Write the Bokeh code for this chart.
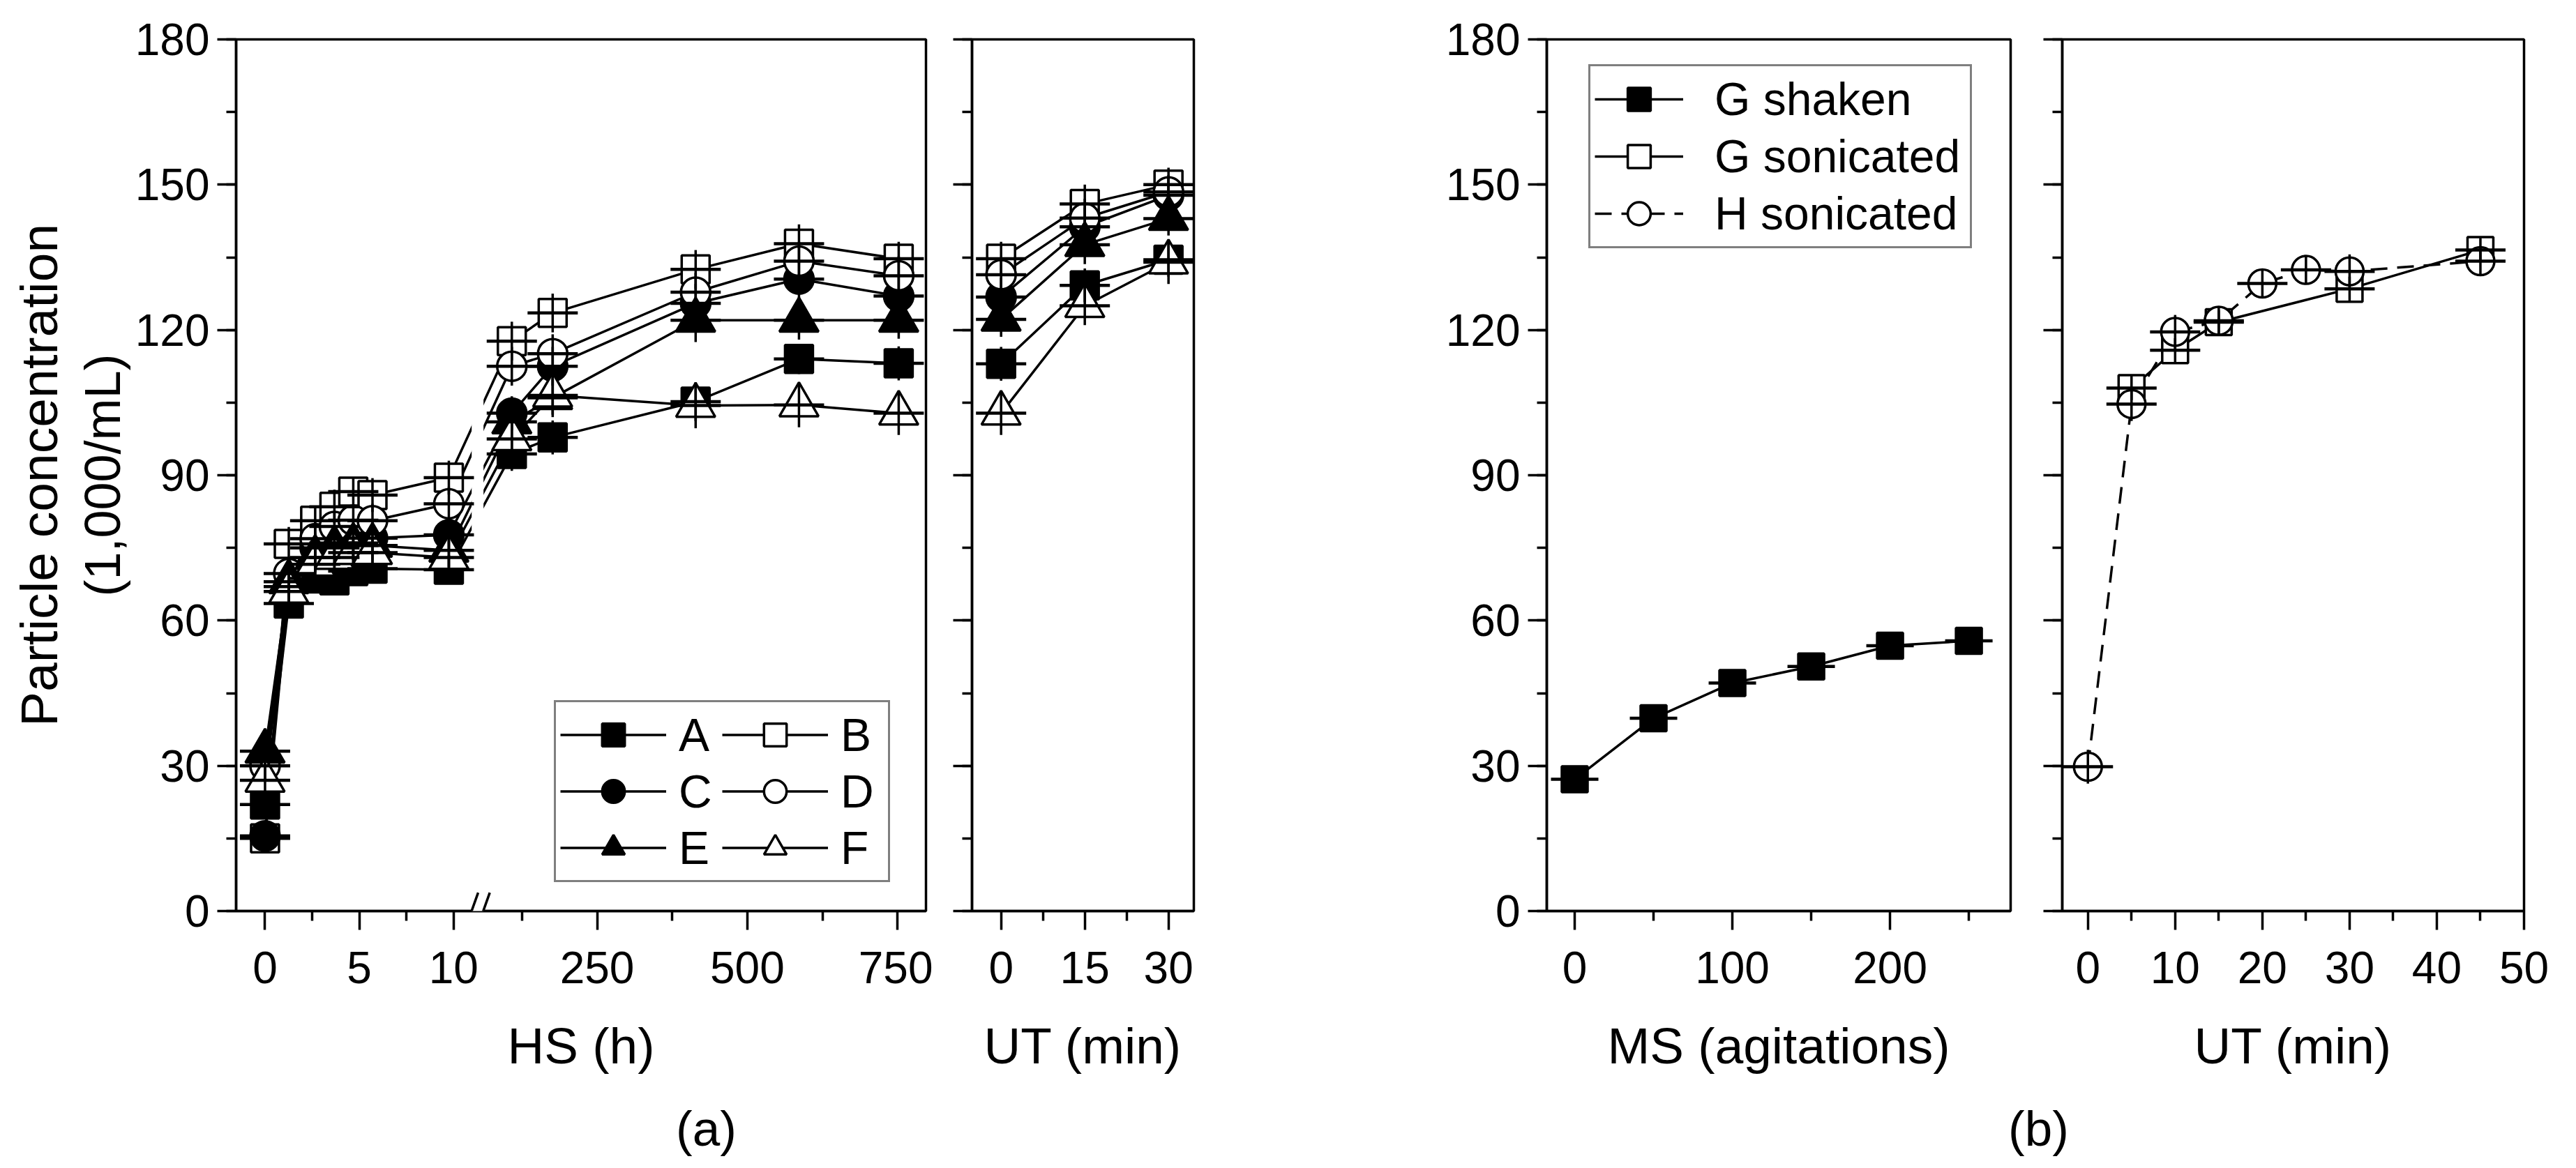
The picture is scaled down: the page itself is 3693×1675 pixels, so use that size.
import math
from bokeh.plotting import figure
from bokeh.models import (Range1d, FixedTicker, SingleIntervalTicker, CustomJSTickFormatter,
                          Legend, LegendItem, Title, Arrow, Label, ColumnDataSource)
from bokeh.layouts import row, column
from bokeh.embed import file_html
from bokeh.resources import INLINE

FONT = "Liberation Sans"

# ------------------------------------------------------------------ data
# panel (a), HS (h) -- broken axis
hs_hours = [0, 1.26, 2.66, 3.68, 4.68, 5.7, 9.75, 108, 176, 414, 586, 752]
hs_A = [22.0, 63.5, 68.7, 68.3, 70.2, 70.7, 70.5, 94.4, 97.8, 105.2, 114.0, 113.1]
hs_B = [15.0, 75.8, 80.6, 83.5, 86.6, 85.9, 89.5, 117.7, 123.5, 132.5, 137.8, 134.7]
hs_C = [15.5, 67.0, 75.0, 76.0, 76.0, 77.0, 77.7, 102.8, 112.5, 125.5, 130.5, 127.0]
hs_D = [30.0, 69.7, 76.9, 79.4, 80.7, 80.6, 84.1, 112.5, 115.1, 127.8, 134.2, 131.2]
hs_E = [33.0, 68.0, 73.0, 75.0, 75.5, 75.5, 74.5, 101.0, 106.0, 122.0, 122.0, 122.0]
hs_F = [27.0, 66.0, 71.6, 73.0, 74.0, 74.0, 73.0, 97.5, 106.5, 104.4, 104.5, 102.8]
hs_err_A = [2.5, 3.0, 3.0, 3.0, 3.0, 3.0, 3.0, 3.5, 3.5, 4.0, 3.1, 3.5]
hs_err_B = [2.5, 3.5, 3.0, 3.5, 3.0, 3.5, 3.5, 4.0, 4.0, 4.0, 4.0, 3.5]
hs_err_C = [2.5, 3.0, 3.0, 3.0, 3.5, 3.0, 3.5, 3.5, 4.0, 4.0, 4.0, 4.0]
hs_err_D = [3.0, 3.0, 3.5, 3.0, 3.0, 3.5, 3.5, 4.0, 4.0, 4.0, 4.0, 4.0]
hs_err_E = [3.0, 3.0, 3.0, 3.5, 3.0, 3.0, 3.5, 3.5, 4.0, 4.5, 4.0, 3.8]
hs_err_F = [3.0, 3.0, 3.0, 3.0, 3.5, 3.0, 3.5, 4.0, 4.0, 4.7, 4.6, 4.5]
hs_tick_labels = [0, 5, 10, 250, 500, 750]
hs_minor_ticks = [2.5, 7.5, 125, 375, 625]

# panel (a), UT (min)
ut_a_min = [0, 15, 30]
ut_a_A = [113.0, 129.2, 134.5]
ut_a_B = [134.7, 146.0, 150.0]
ut_a_C = [126.8, 141.3, 147.8]
ut_a_D = [131.4, 143.1, 148.5]
ut_a_E = [122.2, 137.6, 143.0]
ut_a_F = [102.8, 125.0, 134.0]
ut_a_err_A = [3.5, 3.5, 3.5]
ut_a_err_B = [3.5, 4.0, 3.5]
ut_a_err_C = [4.0, 4.0, 3.5]
ut_a_err_D = [3.5, 4.0, 3.5]
ut_a_err_E = [3.6, 4.0, 3.5]
ut_a_err_F = [4.5, 4.0, 4.5]

# panel (b), MS (agitations)
ms_agitations = [0, 50, 100, 150, 200, 250]
ms_G_shaken = [27.2, 39.8, 47.1, 50.5, 54.8, 55.8]
ms_err = [1.5, 1.5, 1.5, 1.5, 1.5, 1.5]

# panel (b), UT (min)
ut_b_G_min = [5, 10, 15, 30, 45]
ut_b_G_sonicated = [108.0, 115.8, 121.6, 128.5, 136.5]
ut_b_G_err = [2.5, 2.5, 2.5, 2.5, 2.5]
ut_b_H_min = [0, 5, 10, 15, 20, 25, 30, 45]
ut_b_H_sonicated = [29.8, 104.7, 119.6, 121.9, 129.6, 132.4, 132.1, 134.2]
ut_b_H_err = [3.5, 3.5, 3.5, 3.0, 3.0, 3.0, 3.5, 3.0]

series_names = ["A", "B", "C", "D", "E", "F"]

# ------------------------------------------------------------------ styling
LW = 3.5
CAP_W = 4.5
FRAME_W = 3.5
TICK_FS = "64px"
AXIS_FS = "73px"
LEG_FS = "66px"
TOP, BOTTOM = 56, 256
H = 1562
H_DASH = "24 14"

MARK = {
    "A": ("square", 40, "black"),
    "B": ("square", 40, "white"),
    "C": ("circle", 42, "black"),
    "D": ("circle", 42, "white"),
    "E": ("triangle", 56, "black"),
    "F": ("triangle", 56, "white"),
}

# broken axis mapping (display units)
SEG2_U0 = 17.616
SEG2_SCALE = 0.031867
PX_PER_U = 27.05


def hs_pos(h):
    return h if h <= 20 else SEG2_U0 + (h - 250) * SEG2_SCALE


def style_fig(p, x_ticks, x_minor, x_label, y_labels=True):
    p.outline_line_color = "black"
    p.outline_line_width = FRAME_W
    p.xgrid.visible = False
    p.ygrid.visible = False
    p.background_fill_color = "white"
    p.border_fill_color = "white"
    xa = p.xaxis[0]
    ya = p.yaxis[0]
    xa.ticker = FixedTicker(ticks=x_ticks, minor_ticks=x_minor)
    ya.ticker = SingleIntervalTicker(interval=30, num_minor_ticks=2)
    for ax in (xa, ya):
        ax.axis_line_width = FRAME_W
        ax.axis_line_color = "black"
        ax.major_tick_line_width = LW
        ax.minor_tick_line_width = LW
        ax.major_tick_line_color = "black"
        ax.minor_tick_line_color = "black"
        ax.major_tick_out = 27
        ax.major_tick_in = 0
        ax.minor_tick_out = 14
        ax.minor_tick_in = 0
        ax.major_label_text_font = FONT
        ax.major_label_text_font_size = TICK_FS
        ax.major_label_text_color = "black"
        ax.axis_label_text_font = FONT
        ax.axis_label_text_font_size = AXIS_FS
        ax.axis_label_text_font_style = "normal"
        ax.axis_label_text_color = "black"
    xa.axis_label = x_label
    xa.major_label_standoff = 31
    xa.axis_label_standoff = 46
    ya.major_label_standoff = 11
    if not y_labels:
        ya.formatter = CustomJSTickFormatter(code="return ''")
        ya.major_label_standoff = 0


def make_fig(width, mbl, mbr, xr):
    return figure(width=width, height=H, x_range=xr, y_range=Range1d(0, 180),
                  min_border_left=mbl, min_border_right=mbr,
                  min_border_top=TOP, min_border_bottom=BOTTOM,
                  output_backend="svg", toolbar_location=None, title=None)


def draw_group(p, groups, band=None):
    """groups: list of (xs, ys, errs, marker, size, fill, dash, dash_size)"""
    srcs = []
    lines = []
    for xs, ys, errs, marker, size, fill, dash, dsz in groups:
        src = ColumnDataSource(dict(x=xs, y=ys,
                                    lo=[y - e for y, e in zip(ys, errs)],
                                    hi=[y + e for y, e in zip(ys, errs)]))
        srcs.append(src)
        lines.append(p.line("x", "y", source=src, line_color="black",
                            line_width=LW, line_dash=dash))
    if band is not None:
        p.quad(left=[band[0]], right=[band[1]], bottom=[8], top=[172],
               fill_color="white", line_color=None)
    marks = []
    for src, (xs, ys, errs, marker, size, fill, dash, dsz) in zip(srcs, groups):
        marks.append(p.scatter("x", "y", source=src, marker=marker, size=size,
                               fill_color=fill, line_color="black", line_width=LW))
    for src, (xs, ys, errs, marker, size, fill, dash, dsz) in zip(srcs, groups):
        p.segment(x0="x", y0="lo", x1="x", y1="hi", source=src,
                  line_color="black", line_width=LW)
        p.scatter("x", "y", source=src, marker="dash", size=dsz,
                  line_color="black", line_width=CAP_W)
    return lines, marks


# ------------------------------------------------------------------ fig 1 (HS)
x1 = Range1d(-1.534, 35.06)
p1 = make_fig(1337, 338, 10, x1)
hs_major = [hs_pos(v) for v in hs_tick_labels]
hs_minor = [hs_pos(v) for v in hs_minor_ticks]
style_fig(p1, hs_major, hs_minor, "HS (h)")
p1.xaxis[0].formatter = CustomJSTickFormatter(
    args=dict(u0=SEG2_U0, s=SEG2_SCALE),
    code="if (tick < 12) { return tick.toFixed(0) } return (250 + (tick - u0) / s).toFixed(0)")
p1.yaxis[0].axis_label = "(1,000/mL)"
p1.yaxis[0].axis_label_standoff = 4
p1.yaxis[0].axis_label_text_font_size = "72px"
p1.add_layout(Title(text="Particle concentration", align="center", text_font=FONT,
                    text_font_size="75px", text_font_style="normal",
                    text_color="black", standoff=12), "left")

hs_vals = dict(A=hs_A, B=hs_B, C=hs_C, D=hs_D, E=hs_E, F=hs_F)
hs_errs = dict(A=hs_err_A, B=hs_err_B, C=hs_err_C, D=hs_err_D, E=hs_err_E, F=hs_err_F)
hs_x = [hs_pos(h) for h in hs_hours]
brk_l = (684 - 387.5) / PX_PER_U
brk_r = (701 - 387.5) / PX_PER_U
groups1 = [(hs_x, hs_vals[n], hs_errs[n], MARK[n][0], MARK[n][1], MARK[n][2], "solid", 72)
           for n in series_names]
lines1, marks1 = draw_group(p1, groups1, band=(brk_l, brk_r))

# axis break marks
p1.add_layout(Arrow(end=None, x_start=brk_l, y_start=0, x_end=brk_r, y_end=0,
                    line_color="white", line_width=10))
for dx in (0.0, 0.617):
    p1.add_layout(Arrow(end=None, x_start=10.629 + dx, y_start=-3.6,
                        x_end=11.305 + dx, y_end=3.8, line_color="black", line_width=LW))

order = ["A", "C", "E", "B", "D", "F"]
idx = {n: i for i, n in enumerate(series_names)}
leg_a = Legend(items=[LegendItem(label=n, renderers=[lines1[idx[n]], marks1[idx[n]]])
                      for n in order],
               location=(456, 41), orientation="vertical", nrows=3,
               glyph_width=152, glyph_height=81, label_standoff=18, label_width=62,
               spacing=0, padding=6, border_line_color="black", border_line_width=LW,
               background_fill_color="white", background_fill_alpha=1.0,
               label_text_font=FONT, label_text_font_size=LEG_FS, label_text_color="black")
p1.add_layout(leg_a)

# ------------------------------------------------------------------ fig 2 (UT a)
p2 = make_fig(384, 56, 10, Range1d(-5.21, 34.54))
style_fig(p2, [0, 15, 30], [7.5, 22.5], "UT (min)", y_labels=False)
ut_vals = dict(A=ut_a_A, B=ut_a_B, C=ut_a_C, D=ut_a_D, E=ut_a_E, F=ut_a_F)
ut_errs = dict(A=ut_a_err_A, B=ut_a_err_B, C=ut_a_err_C, D=ut_a_err_D, E=ut_a_err_E, F=ut_a_err_F)
groups2 = [(ut_a_min, ut_vals[n], ut_errs[n], MARK[n][0], MARK[n][1], MARK[n][2], "solid", 72)
           for n in series_names]
draw_group(p2, groups2)

# ------------------------------------------------------------------ fig 3 (MS)
p3 = make_fig(1171, 496, 10, Range1d(-17.7, 276.5))
style_fig(p3, [0, 100, 200], [50, 150, 250], "MS (agitations)")
l3, m3 = draw_group(p3, [(ms_agitations, ms_G_shaken, ms_err, "square", 37, "black", "solid", 68)])
nan = float("nan")
dum_src = ColumnDataSource(dict(x=[nan], y=[nan]))
dl_g = p3.line("x", "y", source=dum_src, line_color="black", line_width=LW)
dm_g = p3.scatter("x", "y", source=dum_src, marker="square", size=37, fill_color="white",
                  line_color="black", line_width=LW)
dl_h = p3.line("x", "y", source=dum_src, line_color="black", line_width=LW, line_dash=H_DASH)
dm_h = p3.scatter("x", "y", source=dum_src, marker="circle", size=40, fill_color="white",
                  line_color="black", line_width=LW)
leg_b = Legend(items=[LegendItem(label="G shaken", renderers=[l3[0], m3[0]]),
                      LegendItem(label="G sonicated", renderers=[dl_g, dm_g]),
                      LegendItem(label="H sonicated", renderers=[dl_h, dm_h])],
               location=(60, 950), orientation="vertical",
               glyph_width=127, glyph_height=82, label_standoff=45, label_width=360,
               spacing=0, padding=6, border_line_color="black", border_line_width=LW,
               background_fill_color="white", background_fill_alpha=1.0,
               label_text_font=FONT, label_text_font_size=LEG_FS, label_text_color="black")
p3.add_layout(leg_b)

# ------------------------------------------------------------------ fig 4 (UT b)
p4 = make_fig(766, 64, 40, Range1d(-2.94, 50))
style_fig(p4, [0, 10, 20, 30, 40, 50], [5, 15, 25, 35, 45], "UT (min)", y_labels=False)
draw_group(p4, [
    (ut_b_G_min, ut_b_G_sonicated, ut_b_G_err, "square", 37, "white", "solid", 72),
    (ut_b_H_min, ut_b_H_sonicated, ut_b_H_err, "circle", 40, "white", H_DASH, 72),
])

# ------------------------------------------------------------------ captions
TOTAL_W = 1337 + 384 + 1171 + 766
cap = figure(width=TOTAL_W, height=97, x_range=Range1d(0, TOTAL_W), y_range=Range1d(0, 97),
             x_axis_location=None, y_axis_location=None, min_border=0,
             output_backend="svg", toolbar_location=None, title=None)
cap.outline_line_color = None
cap.grid.visible = False
for txt, xc in (("(a)", 1012), ("(b)", 2922)):
    cap.add_layout(Label(x=xc, y=41, text=txt, text_align="center", text_baseline="middle",
                         text_font=FONT, text_font_size="71px", text_color="black"))

layout = column(row(p1, p2, p3, p4), cap)
open("out.html", "w").write(file_html(layout, INLINE))
